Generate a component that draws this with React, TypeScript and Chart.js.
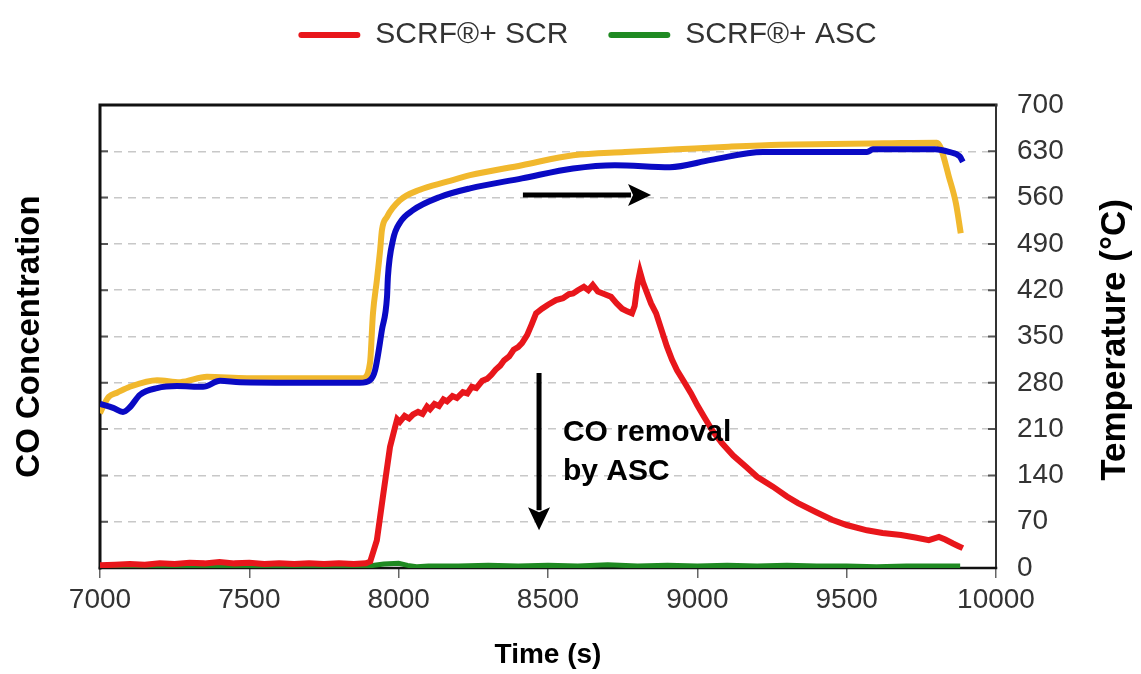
import React, { useEffect, useRef } from "react";
import { Chart, registerables } from "chart.js";

Chart.register(...registerables);

const FONT = '"Liberation Sans", Arial, Helvetica, sans-serif';

// ---- labels / ticks ----
const legendLabels = ["SCRF®+ SCR", "SCRF®+ ASC"];
const tempSeriesLabels = ["Temperature (inlet)", "Temperature (outlet)"];
const xTitle = "Time (s)";
const yLeftTitle = "CO Concentration";
const yRightTitle = "Temperature (°C)";
const annotationLines = ["CO removal", "by ASC"];
const timeTicks = [7000, 7500, 8000, 8500, 9000, 9500, 10000];
const tempTicks = [0, 70, 140, 210, 280, 350, 420, 490, 560, 630, 700];

// ---- SCRF + SCR (red) CO concentration ----
const redTime = [
  7000, 7050, 7100, 7150, 7200, 7250, 7300, 7350, 7400, 7450, 7500, 7550, 7600, 7650, 7700, 7750,
  7800, 7850, 7890, 7905, 7927, 7947, 7971, 7988, 7995, 8004, 8020, 8035, 8048, 8065, 8080, 8095,
  8105, 8120, 8135, 8150, 8162, 8180, 8195, 8215, 8230, 8245, 8260, 8280, 8296, 8310, 8325, 8340,
  8353, 8370, 8385, 8400, 8413, 8430, 8445, 8460, 8480, 8500, 8527, 8550, 8570, 8584, 8600, 8620,
  8635, 8650, 8667, 8690, 8711, 8730, 8748, 8765, 8781, 8790, 8800, 8808, 8818, 8828, 8845, 8862,
  8880, 8898, 8915, 8932, 8955, 8979, 9000, 9022, 9050, 9082, 9120, 9163, 9200, 9253, 9300, 9337,
  9400, 9451, 9500, 9568, 9620, 9682, 9730, 9775, 9809, 9830, 9856, 9875, 9889,
];
const redCO = [
  4, 5, 6, 5, 7, 6, 8, 7, 9, 7, 8, 6, 7, 6, 7, 6,
  7, 6, 7, 10, 42, 107, 183, 213, 225, 221, 230, 226, 232, 236, 233, 244,
  240, 248, 245, 255, 252, 260, 257, 266, 264, 274, 272, 283, 286, 292, 300, 306,
  314, 320, 330, 334, 340, 352, 368, 385, 392, 398, 405, 408, 414, 415, 420, 425,
  420, 428, 418, 414, 410, 400, 392, 388, 385, 396, 430, 448, 432, 420, 400, 385,
  360, 335, 315, 299, 282, 264, 246, 229, 208, 189, 170, 153, 138, 123, 108, 98,
  84, 73, 65, 57, 53, 50, 46, 42, 47, 43, 37, 33, 30,
];

// ---- SCRF + ASC (green) CO concentration ----
const greenTime = [
  7000, 7100, 7200, 7300, 7400, 7500, 7600, 7700, 7800, 7900, 7950, 8000, 8030, 8060, 8100, 8200,
  8300, 8400, 8500, 8600, 8700, 8800, 8900, 9000, 9100, 9200, 9300, 9400, 9500, 9600, 9700, 9800, 9880,
];
const greenCO = [
  2, 3, 4, 3, 4, 3, 4, 3, 4, 3, 6, 7, 4, 2, 3, 3,
  4, 3, 4, 3, 5, 3, 4, 3, 4, 3, 4, 3, 3, 2, 3, 3, 3,
];

// ---- temperature (yellow) ----
const yellowTime = [
  7000, 7017, 7030, 7057, 7100, 7191, 7268, 7358, 7492, 7881, 7904, 7914, 7927, 7938, 7944, 7961,
  8004, 8071, 8162, 8239, 8413, 8584, 8758, 8932, 9106, 9277, 9451, 9625, 9802, 9815, 9842, 9866, 9882,
];
const yellowTemp = [
  234, 250, 259, 265, 274, 284, 281, 289, 287, 287, 310, 385, 435, 481, 511, 531,
  556, 572, 584, 594, 609, 624, 629, 633, 637, 640, 641, 642, 643, 635, 592, 551, 506,
];

// ---- temperature (blue) ----
const blueTime = [
  7000, 7044, 7077, 7100, 7134, 7191, 7258, 7345, 7402, 7469, 7870, 7904, 7921, 7944, 7961, 7964,
  7981, 8004, 8048, 8138, 8239, 8413, 8584, 8724, 8908, 9046, 9220, 9394, 9568, 9588, 9796, 9842, 9879, 9889,
];
const blueTemp = [
  248, 242, 236, 243, 262, 272, 275, 274, 283, 281, 280, 284, 299, 360, 410, 440,
  496, 522, 541, 561, 574, 589, 604, 609, 606, 617, 629, 629, 629, 633, 633, 629, 622, 614,
];

// ---- annotation anchors (data units) ----
const hArrowFrom = [8416, 564];
const hArrowTo = [8845, 564];
const vArrowFrom = [8470, 295];
const vArrowTo = [8470, 57];
const annotationAnchor = [8550, 204, 145];

const pts = (xs: number[], ys: number[]) => xs.map((x, i) => ({ x, y: ys[i] }));

function drawArrow(ctx: CanvasRenderingContext2D, x1: number, y1: number, x2: number, y2: number) {
  const headLen = 23;
  const headHalf = 11;
  const ang = Math.atan2(y2 - y1, x2 - x1);
  const bx = x2 - headLen * Math.cos(ang);
  const by = y2 - headLen * Math.sin(ang);
  ctx.lineWidth = 5;
  ctx.beginPath();
  ctx.moveTo(x1, y1);
  ctx.lineTo(bx + 3 * Math.cos(ang), by + 3 * Math.sin(ang));
  ctx.stroke();
  ctx.beginPath();
  ctx.moveTo(x2, y2);
  ctx.lineTo(bx + headHalf * Math.sin(ang), by - headHalf * Math.cos(ang));
  ctx.lineTo(bx + 5 * Math.cos(ang), by + 5 * Math.sin(ang));
  ctx.lineTo(bx - headHalf * Math.sin(ang), by + headHalf * Math.cos(ang));
  ctx.closePath();
  ctx.fill();
}

const framePlugin = {
  id: "frame",
  beforeDatasetsDraw(chart: any) {
    const { ctx, chartArea: a, scales } = chart;
    const y1 = scales.y1;
    ctx.save();
    ctx.strokeStyle = "#555";
    ctx.lineWidth = 2;
    tempTicks.forEach((v) => {
      const py = y1.getPixelForValue(v);
      ctx.beginPath();
      ctx.moveTo(a.left, py);
      ctx.lineTo(a.left + 8, py);
      ctx.moveTo(a.right - 8, py);
      ctx.lineTo(a.right, py);
      ctx.stroke();
    });
    ctx.lineCap = "square";
    ctx.strokeStyle = "#111";
    ctx.lineWidth = 3;
    ctx.beginPath();
    ctx.moveTo(a.left, a.bottom);
    ctx.lineTo(a.left, a.top);
    ctx.lineTo(a.right, a.top);
    ctx.stroke();
    ctx.strokeStyle = "#333";
    ctx.lineWidth = 2;
    ctx.beginPath();
    ctx.moveTo(a.right, a.top);
    ctx.lineTo(a.right, a.bottom);
    ctx.stroke();
    ctx.strokeStyle = "#111";
    ctx.lineWidth = 2.5;
    ctx.beginPath();
    ctx.moveTo(a.left, a.bottom);
    ctx.lineTo(a.right, a.bottom);
    ctx.stroke();
    ctx.restore();
  },
  afterDatasetsDraw(chart: any) {
    const { ctx, scales, chartArea: a } = chart;
    const x = scales.x;
    const y1 = scales.y1;
    ctx.save();
    ctx.strokeStyle = "#000";
    ctx.fillStyle = "#000";
    drawArrow(
      ctx,
      x.getPixelForValue(hArrowFrom[0]), y1.getPixelForValue(hArrowFrom[1]),
      x.getPixelForValue(hArrowTo[0]), y1.getPixelForValue(hArrowTo[1])
    );
    drawArrow(
      ctx,
      x.getPixelForValue(vArrowFrom[0]), y1.getPixelForValue(vArrowFrom[1]),
      x.getPixelForValue(vArrowTo[0]), y1.getPixelForValue(vArrowTo[1])
    );
    ctx.font = `bold 30px ${FONT}`;
    ctx.textAlign = "left";
    ctx.textBaseline = "middle";
    ctx.fillText(annotationLines[0], x.getPixelForValue(annotationAnchor[0]), y1.getPixelForValue(annotationAnchor[1]));
    ctx.fillText(annotationLines[1], x.getPixelForValue(annotationAnchor[0]), y1.getPixelForValue(annotationAnchor[2]));
    // right axis title, reading bottom-to-top
    ctx.font = `bold 35px ${FONT}`;
    ctx.textAlign = "center";
    ctx.translate(1115, 340);
    ctx.rotate(-Math.PI / 2);
    ctx.fillText(yRightTitle, 0, 0);
    ctx.restore();
  },
};

export default function App() {
  const ref = useRef<HTMLCanvasElement | null>(null);

  useEffect(() => {
    if (!ref.current) return;
    Chart.defaults.font.family = FONT;
    const chart = new Chart(ref.current, {
      type: "line",
      data: {
        datasets: [
          {
            label: legendLabels[0],
            data: pts(redTime, redCO),
            borderColor: "#e8161b",
            backgroundColor: "#e8161b",
            borderWidth: 6,
            pointRadius: 0,
            tension: 0,
            yAxisID: "y",
            order: 0,
          },
          {
            label: legendLabels[1],
            data: pts(greenTime, greenCO),
            borderColor: "#1f8a22",
            backgroundColor: "#1f8a22",
            borderWidth: 5,
            pointRadius: 0,
            tension: 0,
            yAxisID: "y",
            order: 1,
          },
          {
            label: tempSeriesLabels[1],
            data: pts(blueTime, blueTemp),
            borderColor: "#0a0ac4",
            backgroundColor: "#0a0ac4",
            borderWidth: 6,
            pointRadius: 0,
            cubicInterpolationMode: "monotone",
            yAxisID: "y1",
            order: 2,
          },
          {
            label: tempSeriesLabels[0],
            data: pts(yellowTime, yellowTemp),
            borderColor: "#f1b82d",
            backgroundColor: "#f1b82d",
            borderWidth: 6,
            pointRadius: 0,
            cubicInterpolationMode: "monotone",
            yAxisID: "y1",
            order: 3,
          },
        ],
      },
      options: {
        responsive: false,
        animation: false,
        layout: { padding: { top: -20, left: 34, right: 0, bottom: 0 } },
        plugins: {
          tooltip: { enabled: false },
          legend: {
            position: "top",
            align: "center",
            labels: {
              boxWidth: 62,
              boxHeight: 6,
              padding: 40,
              color: "#333",
              font: { size: 30 },
              useBorderRadius: true,
              borderRadius: 3,
              filter: (item: any) => item.datasetIndex < 2,
              generateLabels: (c: any) =>
                Chart.defaults.plugins.legend.labels
                  .generateLabels(c)
                  .map((it: any) => ({ ...it, lineWidth: 0, fillStyle: it.strokeStyle })),
            },
          },
        },
        scales: {
          x: {
            type: "linear",
            position: "bottom",
            min: 7000,
            max: 10000,
            afterBuildTicks: (s: any) => {
              s.ticks = timeTicks.map((v) => ({ value: v }));
            },
            ticks: {
              padding: 5,
              color: "#333",
              font: { size: 28 },
              maxRotation: 0,
              autoSkip: false,
              callback: (v: any) => String(v),
            },
            grid: { drawOnChartArea: false, drawTicks: true, tickLength: 10, color: "#666", lineWidth: 1.5 },
            border: { display: false },
            title: {
              display: true,
              text: xTitle,
              color: "#000",
              font: { size: 28, weight: "bold" },
              padding: { top: 0, bottom: 2 },
            },
            afterFit: (s: any) => {
              s.height = 106;
            },
          },
          xTop: {
            type: "linear",
            position: "top",
            min: 7000,
            max: 10000,
            ticks: { display: false },
            grid: { display: false, drawTicks: false },
            border: { display: false },
            afterFit: (s: any) => {
              s.height = 45;
            },
          },
          y: {
            type: "linear",
            position: "left",
            min: 0,
            max: 700,
            ticks: { display: false },
            grid: { display: false, drawTicks: false },
            border: { display: false },
            title: {
              display: true,
              text: yLeftTitle,
              color: "#000",
              font: { size: 33, weight: "bold" },
              padding: { top: -24, bottom: 0 },
            },
            afterFit: (s: any) => {
              s.width = 66;
            },
          },
          y1: {
            type: "linear",
            position: "right",
            min: 0,
            max: 700,
            afterBuildTicks: (s: any) => {
              s.ticks = tempTicks.map((v) => ({ value: v }));
            },
            ticks: {
              padding: 21,
              color: "#333",
              font: { size: 28 },
              callback: (v: any) => String(v),
            },
            grid: { color: "#c8c8c8", lineWidth: 1.5, drawTicks: false },
            border: { display: false, dash: [8, 6] },
            afterFit: (s: any) => {
              s.width = 145;
            },
          },
        },
      },
      plugins: [framePlugin],
    } as any);
    return () => chart.destroy();
  }, []);

  return (
    <div style={{ position: "absolute", left: 0, top: 0, width: 1141, height: 674, background: "#fff" }}>
      <canvas ref={ref} width={1141} height={674} style={{ display: "block" }} />
    </div>
  );
}
